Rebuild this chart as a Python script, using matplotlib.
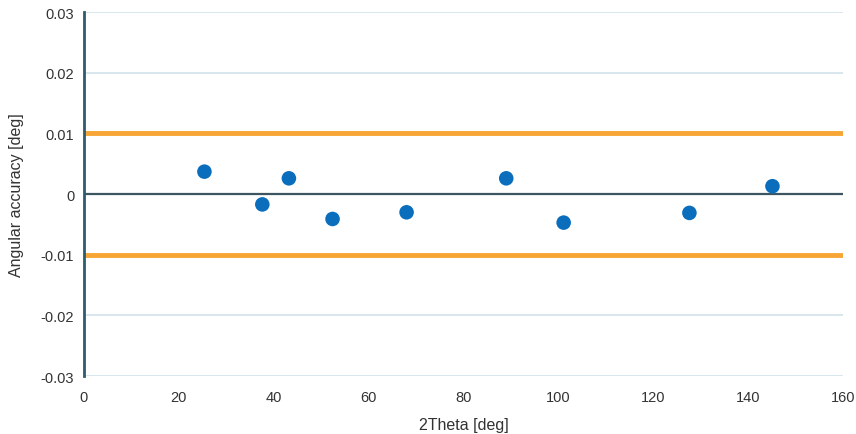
import matplotlib
matplotlib.use("Agg")
import matplotlib.pyplot as plt
from matplotlib import font_manager

two_theta = [25.4, 37.6, 43.2, 52.4, 68.0, 89.0, 101.1, 127.6, 145.1]
accuracy = [0.0037, -0.0017, 0.0026, -0.0041, -0.0030, 0.0026, -0.0047, -0.0031, 0.0013]
limit = 0.01
xticks = [0, 20, 40, 60, 80, 100, 120, 140, 160]
yticks = [-0.03, -0.02, -0.01, 0, 0.01, 0.02, 0.03]
ytick_labels = ["-0.03", "-0.02", "-0.01", "0", "0.01", "0.02", "0.03"]

names = {f.name for f in font_manager.fontManager.ttflist}
fam = "Liberation Sans Narrow" if "Liberation Sans Narrow" in names else "Liberation Sans"
plt.rcParams['font.family'] = [fam, 'DejaVu Sans']

fig = plt.figure(figsize=(8.56, 4.35), dpi=100)
ax = fig.add_axes([0.098, 0.133, 0.887, 0.837])
ax.set_xlim(0, 160)
ax.set_ylim(-0.03, 0.03)

for y in yticks:
    if y != 0:
        ax.axhline(y, color="#d3e2ea", lw=1.2, zorder=1)
ax.axhline(limit, color="#f7a535", lw=3.5, zorder=2)
ax.axhline(-limit, color="#f7a535", lw=3.5, zorder=2)
ax.axhline(0, color="#3d5560", lw=1.6, zorder=2)

ax.scatter(two_theta, accuracy, s=110, color="#0a6ebd", zorder=3, edgecolors="none")

for s in ["top", "right", "bottom"]:
    ax.spines[s].set_visible(False)
ax.spines["left"].set_color("#2f5b6e")
ax.spines["left"].set_linewidth(2)

ax.set_xticks(xticks)
ax.set_yticks(yticks)
ax.set_yticklabels(ytick_labels)
ax.tick_params(axis="y", length=0, labelsize=10.5, colors="#333333", pad=7)
ax.tick_params(axis="x", length=0, labelsize=10.5, colors="#333333", pad=10)
ax.set_xlabel("2Theta [deg]", fontsize=11.5, color="#333333", labelpad=9)
ax.set_ylabel("Angular accuracy [deg]", fontsize=11.5, color="#333333", labelpad=12)

fig.savefig("out.png", dpi=100)
